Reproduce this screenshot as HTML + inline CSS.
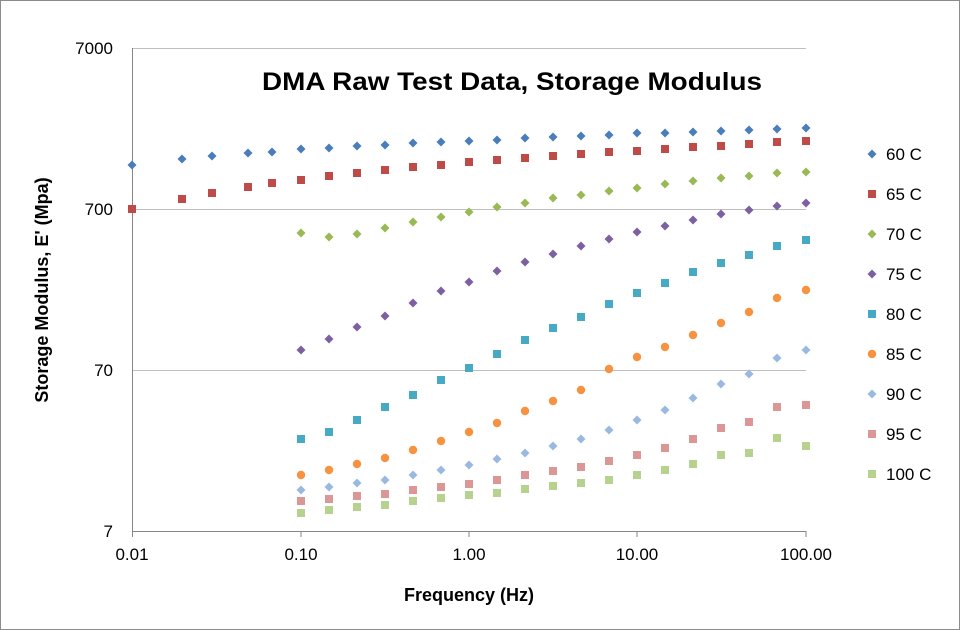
<!DOCTYPE html>
<html><head><meta charset="utf-8"><style>
html,body{margin:0;padding:0;background:#fff}
svg{display:block;font-family:"Liberation Sans",Arial,sans-serif}
</style></head><body>
<svg id="s" width="960" height="630" viewBox="0 0 960 630" xmlns="http://www.w3.org/2000/svg">
<rect x="0.5" y="0.5" width="959" height="629" fill="#fff" stroke="#8c8c8c"/>
<g stroke="#bfbfbf" stroke-width="1">
<line x1="132" y1="48.5" x2="806" y2="48.5"/>
<line x1="132" y1="209.5" x2="806" y2="209.5"/>
<line x1="132" y1="370.5" x2="806" y2="370.5"/>
</g>
<g stroke="#868686" stroke-width="1">
<line x1="132.5" y1="48" x2="132.5" y2="531"/>
<line x1="132" y1="531.5" x2="806" y2="531.5"/>
<line x1="132.5" y1="531" x2="132.5" y2="537"/>
<line x1="301" y1="531" x2="301" y2="537"/>
<line x1="469" y1="531" x2="469" y2="537"/>
<line x1="637" y1="531" x2="637" y2="537"/>
<line x1="806" y1="531" x2="806" y2="537"/>
</g>
<g font-size="17" fill="#000" text-anchor="end">
<text x="113" y="54">7000</text>
<text x="113" y="215">700</text>
<text x="113" y="376">70</text>
<text x="113" y="537">7</text>
</g>
<g font-size="17" fill="#000" text-anchor="middle">
<text x="132" y="560">0.01</text>
<text x="301" y="560">0.10</text>
<text x="469" y="560">1.00</text>
<text x="637" y="560">10.00</text>
<text x="806" y="560">100.00</text>
</g>
<text x="469" y="601" font-size="18" font-weight="bold" text-anchor="middle">Frequency (Hz)</text>
<text transform="translate(48,290) rotate(-90)" font-size="18" font-weight="bold" text-anchor="middle">Storage Modulus, E'  (Mpa)</text>
<text x="262" y="90" font-size="25" font-weight="bold" textLength="500" lengthAdjust="spacingAndGlyphs">DMA Raw Test Data, Storage Modulus</text>
<g font-size="17" fill="#000">
<text x="886" y="160">60 C</text>
<text x="886" y="200">65 C</text>
<text x="886" y="240">70 C</text>
<text x="886" y="280">75 C</text>
<text x="886" y="320">80 C</text>
<text x="886" y="360">85 C</text>
<text x="886" y="400">90 C</text>
<text x="886" y="440">95 C</text>
<text x="886" y="480">100 C</text>
</g>
<g id="m"></g>
</svg>
<script>
var X=[301,329,357,385,413,441,469,497,525,553,581,609,637,665,693,721,749,777,806];
var XL=[132,182,212,248,272].concat(X);
var S=[
["d","#4a7ebb",XL,[165,159,156,153,152,149,148,146,145,143,142,141,140,138,137,136,135,133,133,132,131,130,129,128]],
["s","#be4b48",XL,[209,199,193,187,183,180,176,173,170,167,165,162,160,158,156,154,152,151,149,147,146,144,142,141]],
["d","#98b954",X,[233,237,234,228,222,217,212,207,203,198,195,191,188,184,181,178,176,173,172]],
["d","#7d60a0",X,[350,339,327,316,303,291,282,271,262,254,246,239,232,226,220,214,210,206,203]],
["s","#46aac5",X,[439,432,420,407,395,380,368,354,340,328,317,304,293,283,272,263,255,246,240]],
["c","#f69240",X,[475,470,464,458,450,441,432,423,411,401,390,369,357,347,335,323,312,298,290]],
["d","#99b9e1",X,[490,487,483,480,475,470,465,459,453,446,439,430,420,410,398,384,374,358,350]],
["s","#da9795",X,[501,499,496,494,490,487,484,480,475,471,467,461,455,448,439,428,422,407,405]],
["s","#b7d28e",X,[513,510,507,505,501,498,495,493,489,486,483,480,475,470,464,455,453,438,446]]
];
function mk(t,c,x,y){
 if(t=="d")return '<polygon points="'+x+','+(y-4.5)+' '+(x+4.5)+','+y+' '+x+','+(y+4.5)+' '+(x-4.5)+','+y+'" fill="'+c+'"/>';
 if(t=="s")return '<rect x="'+(x-4)+'" y="'+(y-4)+'" width="8" height="8" fill="'+c+'"/>';
 return '<circle cx="'+x+'" cy="'+y+'" r="4.2" fill="'+c+'"/>';
}
var h='';
S.forEach(function(s,i){
 for(var k=0;k<s[2].length;k++)h+=mk(s[0],s[1],s[2][k],s[3][k]);
 h+=mk(s[0],s[1],872,154+40*i);
});
document.getElementById('m').innerHTML=h;
</script>
</body></html>
